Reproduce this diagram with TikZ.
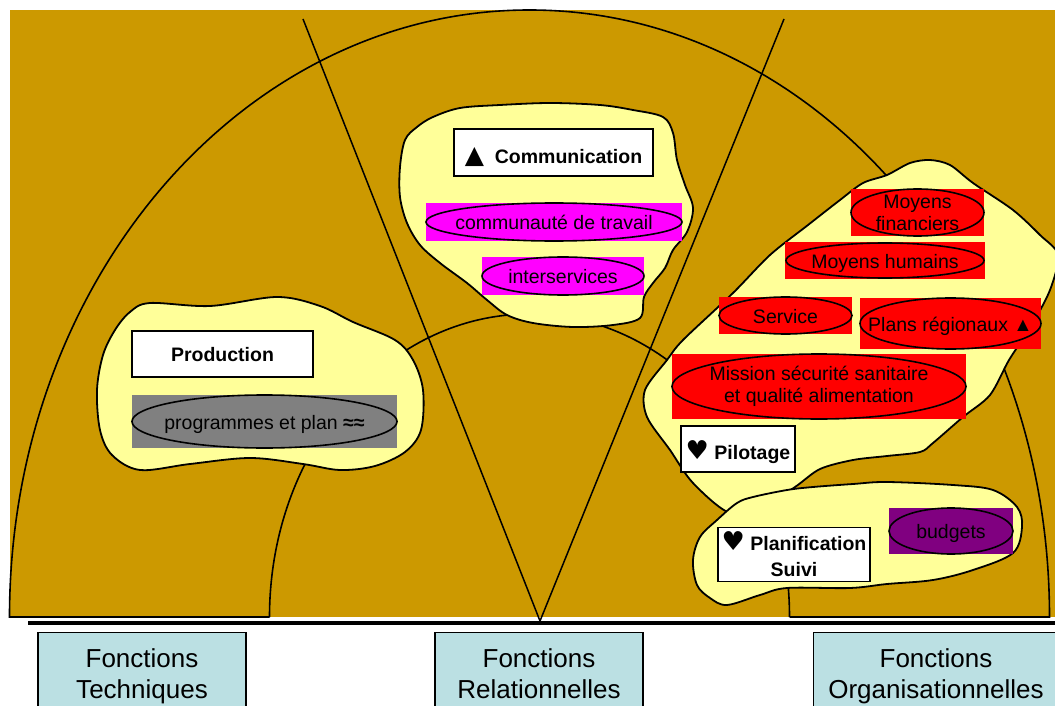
\documentclass[tikz,border=0pt]{standalone}
\usepackage{fontspec}
\setmainfont{Liberation Sans}
\newfontfamily\symfont{DejaVu Sans}
\usetikzlibrary{positioning}
\usetikzlibrary{shapes.geometric}

\definecolor{archbrown}{HTML}{CC9900}
\definecolor{blobyellow}{HTML}{FFFF99}
\definecolor{fnblue}{HTML}{BBE0E3}
\definecolor{tagpink}{HTML}{FF00FF}
\definecolor{tagred}{HTML}{FF0000}
\definecolor{tagpurple}{HTML}{800080}
\definecolor{taggrey}{HTML}{808080}

\newcommand{\tagfont}{\fontsize{19.5}{22}\selectfont}
\newcommand{\titlefont}{\fontsize{19.5}{26}\selectfont\bfseries}
\newcommand{\fnfont}{\fontsize{26}{31}\selectfont}
\newcommand{\bigtri}{{\symfont\fontsize{25}{25}\selectfont ▲}}
\newcommand{\bigheart}{{\symfont\fontsize{26}{26}\selectfont ♥}}

\tikzset{
	blob/.style={draw, line width=1.8pt, fill=blobyellow, line join=round},
	titlebox/.style={draw, line width=1.6pt, fill=white, inner sep=0pt, font=\titlefont, align=center},
	tagbg/.style={fill=#1, inner sep=0pt, font=\tagfont, align=center},
	oneline/.style={text height=17pt, text depth=2pt},
	ring/.style={draw, line width=1.6pt},
	fnbox/.style={draw, line width=1.4pt, fill=fnblue, anchor=north, minimum height=100},
	fntext/.style={font=\fnfont, align=center, text depth=5.5pt},
}

\begin{document}
\begin{tikzpicture}[x=1pt, y=-1pt]
	
	% ------------------------------------------------
	% Ensure the dimensions of graphic are appropriate
	\useasboundingbox (0,0) rectangle (1055,706);
	
	% ------------------------------------------------
	% Relevant coordinates
	\coordinate (Base) at (529.5,617);
	\coordinate (Apex) at (540,621);
	\coordinate (LTop) at (303,19);
	\coordinate (RTop) at (784,19);
	
	\path (Base) +(-520,0) coordinate (OutL);
	\path (Base) +(520,0)  coordinate (OutR);
	\path (Base) +(-260,0) coordinate (InL);
	\path (Base) +(260,0)  coordinate (InR);
	
	% ----------------
	% Background and arches
	\fill[archbrown] (10,10) rectangle (1056,617);
	
	\draw[line width=1.6pt] (InL) -- (OutL)
		arc[start angle=180, end angle=360, x radius=520, y radius=607]
		-- (InR);
	\draw[line width=1.6pt] (InL)
		arc[start angle=180, end angle=360, x radius=260, y radius=303];
	
	\draw[line width=1.5pt] (LTop) -- (Apex) -- (RTop);
	
	\draw[line width=4pt] (28,623) -- (1058,623);
	
	% ----------------
	% Blobs
	\draw[blob] plot[smooth cycle, tension=0.55] coordinates {
		(130,312) (150,303) (210,306) (277,297) (320,306) (353,322) (395,340)
		(413,360) (423,390) (421,430) (405,452) (375,466) (340,470) (303,464)
		(250,458) (190,464) (140,470) (112,455) (100,430) (97,390) (103,355) (115,330)};
	
	\draw[blob] plot[smooth cycle, tension=0.55] coordinates {
		(433,117) (460,108) (500,105) (550,103) (600,105) (633,110) (663,117)
		(673,133) (677,160) (685,185) (693,208) (687,232) (673,250) (665,268)
		(653,283) (644,297) (640,318) (613,325) (573,327) (533,323) (507,315)
		(487,300) (467,283) (440,263) (420,245) (407,223) (400,197) (400,167)
		(405,140) (417,127)};
	
	\draw[blob] plot[smooth cycle, tension=0.5] coordinates {
		(863,183) (887,175) (910,163) (930,160) (950,165) (973,183) (1013,210)
		(1040,235) (1058,255) (1050,290) (1030,328) (1009,360) (990,395)
		(963,417) (933,443) (920,452) (887,456) (853,460) (820,469) (795,487)
		(765,505) (730,513) (693,483) (670,450) (647,417) (645,390) (667,360)
		(683,340) (733,293) (770,255) (808,225) (840,200)};
	
	\draw[blob] plot[smooth cycle, tension=0.55] coordinates {
		(700,537) (717,520) (737,503) (753,497) (787,490) (813,487) (853,484)
		(887,482) (953,485) (993,490) (1017,507) (1022,527) (1013,553)
		(973,570) (933,580) (887,584) (850,588) (787,588) (760,595) (727,605)
		(710,598) (697,585) (693,560)};
	
	% ----------------
	% Titles
	\node[titlebox, minimum width=181, minimum height=46, text height=14pt, text depth=0pt] (prod) at (222.5,354) {Production};
	\node[titlebox, minimum width=199, minimum height=47, text height=22pt, text depth=0pt] (comm) at (553.5,152.5) {\bigtri\ \ Communication};
	\node[titlebox, minimum width=114, minimum height=46, text height=20pt, text depth=0pt] (pilot) at (738,449) {\bigheart\ Pilotage};
	\node[titlebox, minimum width=152, minimum height=54] (plan) at (794,554.5) {\bigheart\ Planification\\Suivi};
	
	% ----------------
	% Tags
	\node[tagbg=taggrey, oneline, minimum width=265, minimum height=53] (progr) at (264.5,421.5) {programmes et plan \textbf{≈≈}};
	\draw[ring] (progr.center) ellipse [x radius=132.5, y radius=26.5];
	
	\node[tagbg=tagpink, oneline, minimum width=256, minimum height=38] (trav) at (554,222) {communauté de travail};
	\draw[ring] (trav.center) ellipse [x radius=128, y radius=19];
	
	\node[tagbg=tagpink, oneline, minimum width=162, minimum height=38] (inter) at (563,276) {interservices};
	\draw[ring] (inter.center) ellipse [x radius=81, y radius=19];
	
	\node[tagbg=tagred, minimum width=133, minimum height=47] (finan) at (917.5,212.5) {Moyens\\financiers};
	\draw[ring] (finan.center) ellipse [x radius=66.5, y radius=23.5];
	
	\node[tagbg=tagred, oneline, minimum width=200, minimum height=37] (human) at (885,260.5) {Moyens humains};
	\draw[ring] (human.center) ellipse [x radius=99, y radius=17.5];
	
	\node[tagbg=tagred, oneline, minimum width=133, minimum height=37] (serv) at (785.5,315.5) {Service};
	\draw[ring] (serv.center) ellipse [x radius=66.5, y radius=18.5];
	
	\node[tagbg=tagred, oneline, minimum width=181, minimum height=51] (regio) at (950.5,323.5) {Plans régionaux ▲};
	\draw[ring] (regio.center) ellipse [x radius=90.5, y radius=25.5];
	
	\node[tagbg=tagred, minimum width=294, minimum height=65] (missi) at (819,386.5) {Mission sécurité sanitaire\\et qualité alimentation};
	\draw[ring] (missi.center) ellipse [x radius=147, y radius=32.5];
	
	\node[tagbg=tagpurple, oneline, minimum width=124, minimum height=46] (budg) at (951,531) {budgets};
	\draw[ring] (budg.center) ellipse [x radius=62, y radius=23];
	
	% ----------------
	% Function labels
	\node[fnbox, minimum width=208] (techBox) at (142,632) {};
	\node[fnbox, minimum width=208] (relBox)  at (539,632) {};
	\node[fnbox, minimum width=250, anchor=north west] (orgBox) at (813,632) {};
	
	\node[fntext] (techTxt) at (142,676.5) {Fonctions\\Techniques};
	\node[fntext] (relTxt)  at (539,676.5) {Fonctions\\Relationnelles};
	\node[fntext] (orgTxt)  at (936,676.5) {Fonctions\\Organisationnelles};
	
\end{tikzpicture}
\end{document}
